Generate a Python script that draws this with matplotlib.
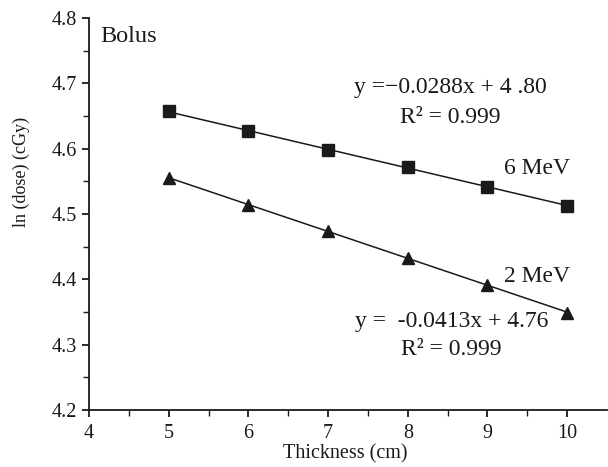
import matplotlib
matplotlib.use("Agg")
import matplotlib.pyplot as plt
import numpy as np

plt.rcParams['font.family'] = ['Liberation Serif', 'DejaVu Serif']

thickness = [5, 6, 7, 8, 9, 10]
dose_6mev = [4.657, 4.627, 4.598, 4.572, 4.541, 4.513]
dose_2mev = [4.555, 4.514, 4.474, 4.433, 4.391, 4.349]

xticks = [4, 5, 6, 7, 8, 9, 10]
yticks = [4.2, 4.3, 4.4, 4.5, 4.6, 4.7, 4.8]

col = '#1a1a1a'
fig = plt.figure(figsize=(6.08, 4.67), dpi=100)
ax = fig.add_axes([0.1464, 0.122, 0.852, 0.8395])

x = np.array(thickness, dtype=float)
for y, mk in [(dose_6mev, 's'), (dose_2mev, '^')]:
    y = np.array(y)
    p = np.polyfit(x, y, 1)
    ax.plot(x, np.polyval(p, x), color=col, lw=1.1, zorder=2)
    ax.plot(x, y, linestyle='none', marker=mk, color=col, markersize=8, zorder=3)

ax.set_xlim(4, 10.5)
ax.set_ylim(4.2, 4.8)
ax.set_xticks(xticks)
ax.set_yticks(yticks)
ax.set_xticks(np.arange(4.5, 10.5, 1.0), minor=True)
ax.set_yticks(np.arange(4.25, 4.8, 0.1), minor=True)
ax.tick_params(axis='both', which='major', direction='out', length=5, width=1.3,
               labelsize=14.5, colors=col)
ax.tick_params(axis='x', which='major', pad=5)
ax.tick_params(axis='both', which='minor', direction='out', length=4, width=1.0, colors=col)
for s in ['top', 'right']:
    ax.spines[s].set_visible(False)
for s in ['left', 'bottom']:
    ax.spines[s].set_linewidth(1.3)
    ax.spines[s].set_color(col)

ax.set_xlabel('Thickness (cm)', fontsize=14.5, color=col)
ax.xaxis.set_label_coords(0.494, -0.088)
ax.set_ylabel('ln (dose) (cGy)', fontsize=13, color=col)
ax.yaxis.set_label_coords(-0.113, 0.607)

fs = 17
ax.text(4.14, 4.771, 'Bolus', fontsize=17.5, color=col, ha='left', va='center')
ax.text(8.53, 4.693, 'y =\u22120.0288x + 4 .80', fontsize=fs, color=col,
        ha='center', va='center')
ax.text(8.53, 4.648, 'R\u00b2 = 0.999', fontsize=fs, color=col, ha='center', va='center')
ax.text(9.62, 4.570, '6 MeV', fontsize=fs, color=col, ha='center', va='center')
ax.text(9.62, 4.404, '2 MeV', fontsize=fs, color=col, ha='center', va='center')
ax.text(8.55, 4.335, 'y =  -0.0413x + 4.76', fontsize=fs, color=col,
        ha='center', va='center')
ax.text(8.55, 4.292, 'R\u00b2 = 0.999', fontsize=fs, color=col, ha='center', va='center')

fig.savefig('out.png', dpi=100)
